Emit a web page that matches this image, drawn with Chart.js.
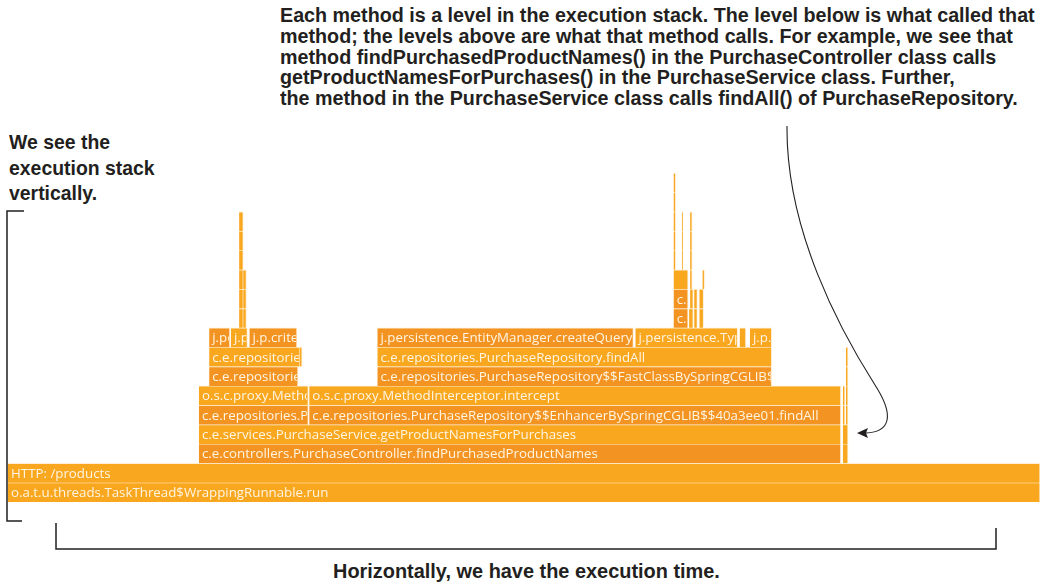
<!DOCTYPE html>
<html>
<head>
<meta charset="utf-8">
<script src="https://cdn.jsdelivr.net/npm/chart.js@4.4.1/dist/chart.umd.min.js"></script>
<style>
  body { margin: 0; background: #fff; }
  #page { position: relative; width: 1044px; height: 582px; overflow: hidden; }
  #flame { position: absolute; left: 8px; top: 173px; width: 1032px; height: 329px; }
  .note {
    position: absolute;
    font-family: "Liberation Sans", Arial, sans-serif;
    font-weight: bold;
    color: #231f20;
    white-space: nowrap;
    transform-origin: left top;
  }
  #noteTop { left: 280px; top: 5px; font-size: 19.5px; line-height: 20.8px; }
  #noteLeft { left: 9px; top: 129px; font-size: 21px; line-height: 25.5px; }
  #noteBottom { left: 333px; top: 560px; font-size: 19.5px; line-height: 22px; }
  svg { position: absolute; left: 0; top: 0; }
</style>
</head>
<body>
<div id="page">
  <div class="note" id="noteTop">Each method is a level in the execution stack. The level below is what called that<br>method; the levels above are what that method calls. For example, we see that<br>method findPurchasedProductNames() in the PurchaseController class calls<br>getProductNamesForPurchases() in the PurchaseService class. Further,<br>the method in the PurchaseService class calls findAll() of PurchaseRepository.</div>
  <div class="note" id="noteLeft">We see the<br>execution stack<br>vertically.</div>
  <div class="note" id="noteBottom">Horizontally, we have the execution time.</div>
  <div id="flame"><canvas id="chart"></canvas></div>
  <svg width="1044" height="582">
    <path d="M24,211 L7,211 L7,521 L22,521" fill="none" stroke="#231f20" stroke-width="1.5"/>
    <path d="M56,523 L56,549 L996,549 L996,528" fill="none" stroke="#231f20" stroke-width="1.5"/>
    <path d="M787,126 C786,230 840,330 875,385 C895,416 890,432 866,433" fill="none" stroke="#231f20" stroke-width="1.1"/>
    <path d="M857,433 L868,428 L866,433 L868,438 Z" fill="#231f20"/>
  </svg>
</div>
<script>
// flame graph frames: stack level, start and end (% of total request time), method name
const frameLevel = [0, 1, 2, 2, 3, 3, 4, 4, 4, 4, 5, 5, 5, 5, 6, 6, 6, 7, 7, 7, 7,
  8, 8, 8, 8, 8, 8, 8,
  9, 9, 9, 9, 9, 9,
  10, 10, 10, 10, 10, 10,
  11, 11, 11, 11, 11,
  12, 12, 12, 12, 13, 13, 13, 13, 14, 14, 14, 14,
  15, 16];
const frameStart = [0, 0, 18.5, 80.9, 18.5, 80.9, 18.5, 29.2, 80.9, 81.2, 18.5, 29.2, 80.9, 81.2,
  19.5, 35.8, 81.2, 19.5, 28.3, 35.8, 81.2,
  19.5, 21.6, 23.4, 35.8, 60.8, 70.9, 71.9,
  22.4, 22.8, 64.5, 66.0, 66.5, 67.0,
  22.4, 22.8, 64.5, 66.1, 66.5, 67.0,
  22.4, 22.8, 64.5, 66.1, 67.3,
  22.4, 64.5, 65.3, 66.1, 22.4, 64.5, 65.3, 66.1, 22.4, 64.5, 65.3, 66.1,
  64.5, 64.5];
const frameEnd = [100, 100, 80.7, 81.4, 80.7, 81.4, 29.1, 80.7, 81.1, 81.4, 29.1, 80.7, 81.1, 81.4,
  28.1, 74.0, 81.4, 28.3, 28.5, 74.0, 81.4,
  21.5, 23.2, 28.0, 60.6, 70.7, 71.5, 74.0,
  22.8, 23.1, 65.9, 66.4, 66.8, 67.4,
  22.8, 23.1, 65.9, 66.4, 66.8, 67.4,
  22.8, 23.1, 65.9, 66.3, 67.5,
  22.8, 64.7, 65.4, 66.3, 22.8, 64.7, 65.4, 66.3, 22.8, 64.7, 65.4, 66.3,
  64.7, 64.7];
const frameName = [
  "o.a.t.u.threads.TaskThread$WrappingRunnable.run",
  "HTTP: /products",
  "c.e.controllers.PurchaseController.findPurchasedProductNames", "",
  "c.e.services.PurchaseService.getProductNamesForPurchases", "",
  "c.e.repositories.ProductRepository$$EnhancerBySpringCGLIB$$c4fd2d8a.findAllById",
  "c.e.repositories.PurchaseRepository$$EnhancerBySpringCGLIB$$40a3ee01.findAll", "", "",
  "o.s.c.proxy.MethodInterceptor.intercept",
  "o.s.c.proxy.MethodInterceptor.intercept", "", "",
  "c.e.repositories.ProductRepository$$FastClassBySpringCGLIB$$.invoke",
  "c.e.repositories.PurchaseRepository$$FastClassBySpringCGLIB$$.invoke", "",
  "c.e.repositories.ProductRepository.findAllById", "",
  "c.e.repositories.PurchaseRepository.findAll", "",
  "j.persistence.EntityManager.getCriteriaBuilder",
  "j.p.criteria.CriteriaQuery.from",
  "j.p.criteria.CriteriaBuilder.in",
  "j.persistence.EntityManager.createQuery",
  "j.persistence.TypedQuery.getResultList", "",
  "j.p.criteria.CriteriaQuery.select",
  "", "", "c.z.h.pool.HikariProxyPreparedStatement.executeQuery", "", "", "",
  "", "", "c.z.h.pool.ProxyPreparedStatement.executeQuery", "", "", "",
  "", "", "", "", "",
  "", "", "", "", "", "", "", "", "", "", "", "",
  "", ""];

// the darker orange is used for these methods, everything else is the lighter one
const darkMethods = [
  "c.e.controllers.PurchaseController.findPurchasedProductNames",
  "c.e.repositories.ProductRepository$$EnhancerBySpringCGLIB$$c4fd2d8a.findAllById",
  "c.e.repositories.PurchaseRepository$$EnhancerBySpringCGLIB$$40a3ee01.findAll",
  "c.e.repositories.ProductRepository$$FastClassBySpringCGLIB$$.invoke",
  "c.e.repositories.PurchaseRepository$$FastClassBySpringCGLIB$$.invoke",
  "j.persistence.EntityManager.getCriteriaBuilder",
  "j.p.criteria.CriteriaBuilder.in",
  "j.persistence.EntityManager.createQuery",
  "c.z.h.pool.HikariProxyPreparedStatement.executeQuery",
  "c.z.h.pool.ProxyPreparedStatement.executeQuery"
];
const darkOrange = "#f39422";
const lightOrange = "#f8a71f";

// squeeze the bold notes to the condensed width of the original typeface
function fitNote(id, width) {
  const el = document.getElementById(id);
  el.style.transform = "scaleX(" + (width / el.scrollWidth) + ")";
}
fitNote("noteTop", 755);
fitNote("noteLeft", 146);
fitNote("noteBottom", 387);

// writes the (clipped) method name inside each frame
const frameLabels = {
  id: "frameLabels",
  afterDatasetsDraw(chart) {
    const ctx = chart.ctx;
    const meta = chart.getDatasetMeta(0);
    ctx.save();
    ctx.font = '13.3px "Open Sans"';
    ctx.fillStyle = "#fff5e3";
    ctx.textBaseline = "middle";
    meta.data.forEach((bar, i) => {
      const name = frameName[i];
      if (!name) return;
      const p = bar.getProps(["x", "y", "base", "height"], true);
      const left = Math.min(p.x, p.base);
      const right = Math.max(p.x, p.base);
      if (right - left < 6) return;
      ctx.save();
      ctx.beginPath();
      ctx.rect(left + 1, p.y - p.height / 2, right - left - 2, p.height);
      ctx.clip();
      ctx.fillText(name, left + 3, p.y + 1);
      ctx.restore();
    });
    ctx.restore();
  }
};

const frames = frameLevel.map((lvl, i) => ({ x: [frameStart[i], frameEnd[i]], y: lvl }));

new Chart(document.getElementById("chart"), {
  type: "bar",
  data: {
    datasets: [{
      data: frames,
      backgroundColor: frameName.map(n => darkMethods.includes(n) ? darkOrange : lightOrange),
      borderColor: "rgba(255, 236, 205, 0.9)",
      borderWidth: { top: 1, right: 1, bottom: 0, left: 0 },
      borderSkipped: false,
      barPercentage: 1,
      categoryPercentage: 1
    }]
  },
  options: {
    indexAxis: "y",
    responsive: true,
    maintainAspectRatio: false,
    animation: false,
    layout: { padding: 0 },
    plugins: { legend: { display: false }, tooltip: { enabled: false } },
    scales: {
      x: { type: "linear", min: 0, max: 100, display: false, offset: false },
      y: { type: "linear", min: -0.5, max: 16.5, display: false, offset: false }
    }
  },
  plugins: [frameLabels]
});
</script>
</body>
</html>
